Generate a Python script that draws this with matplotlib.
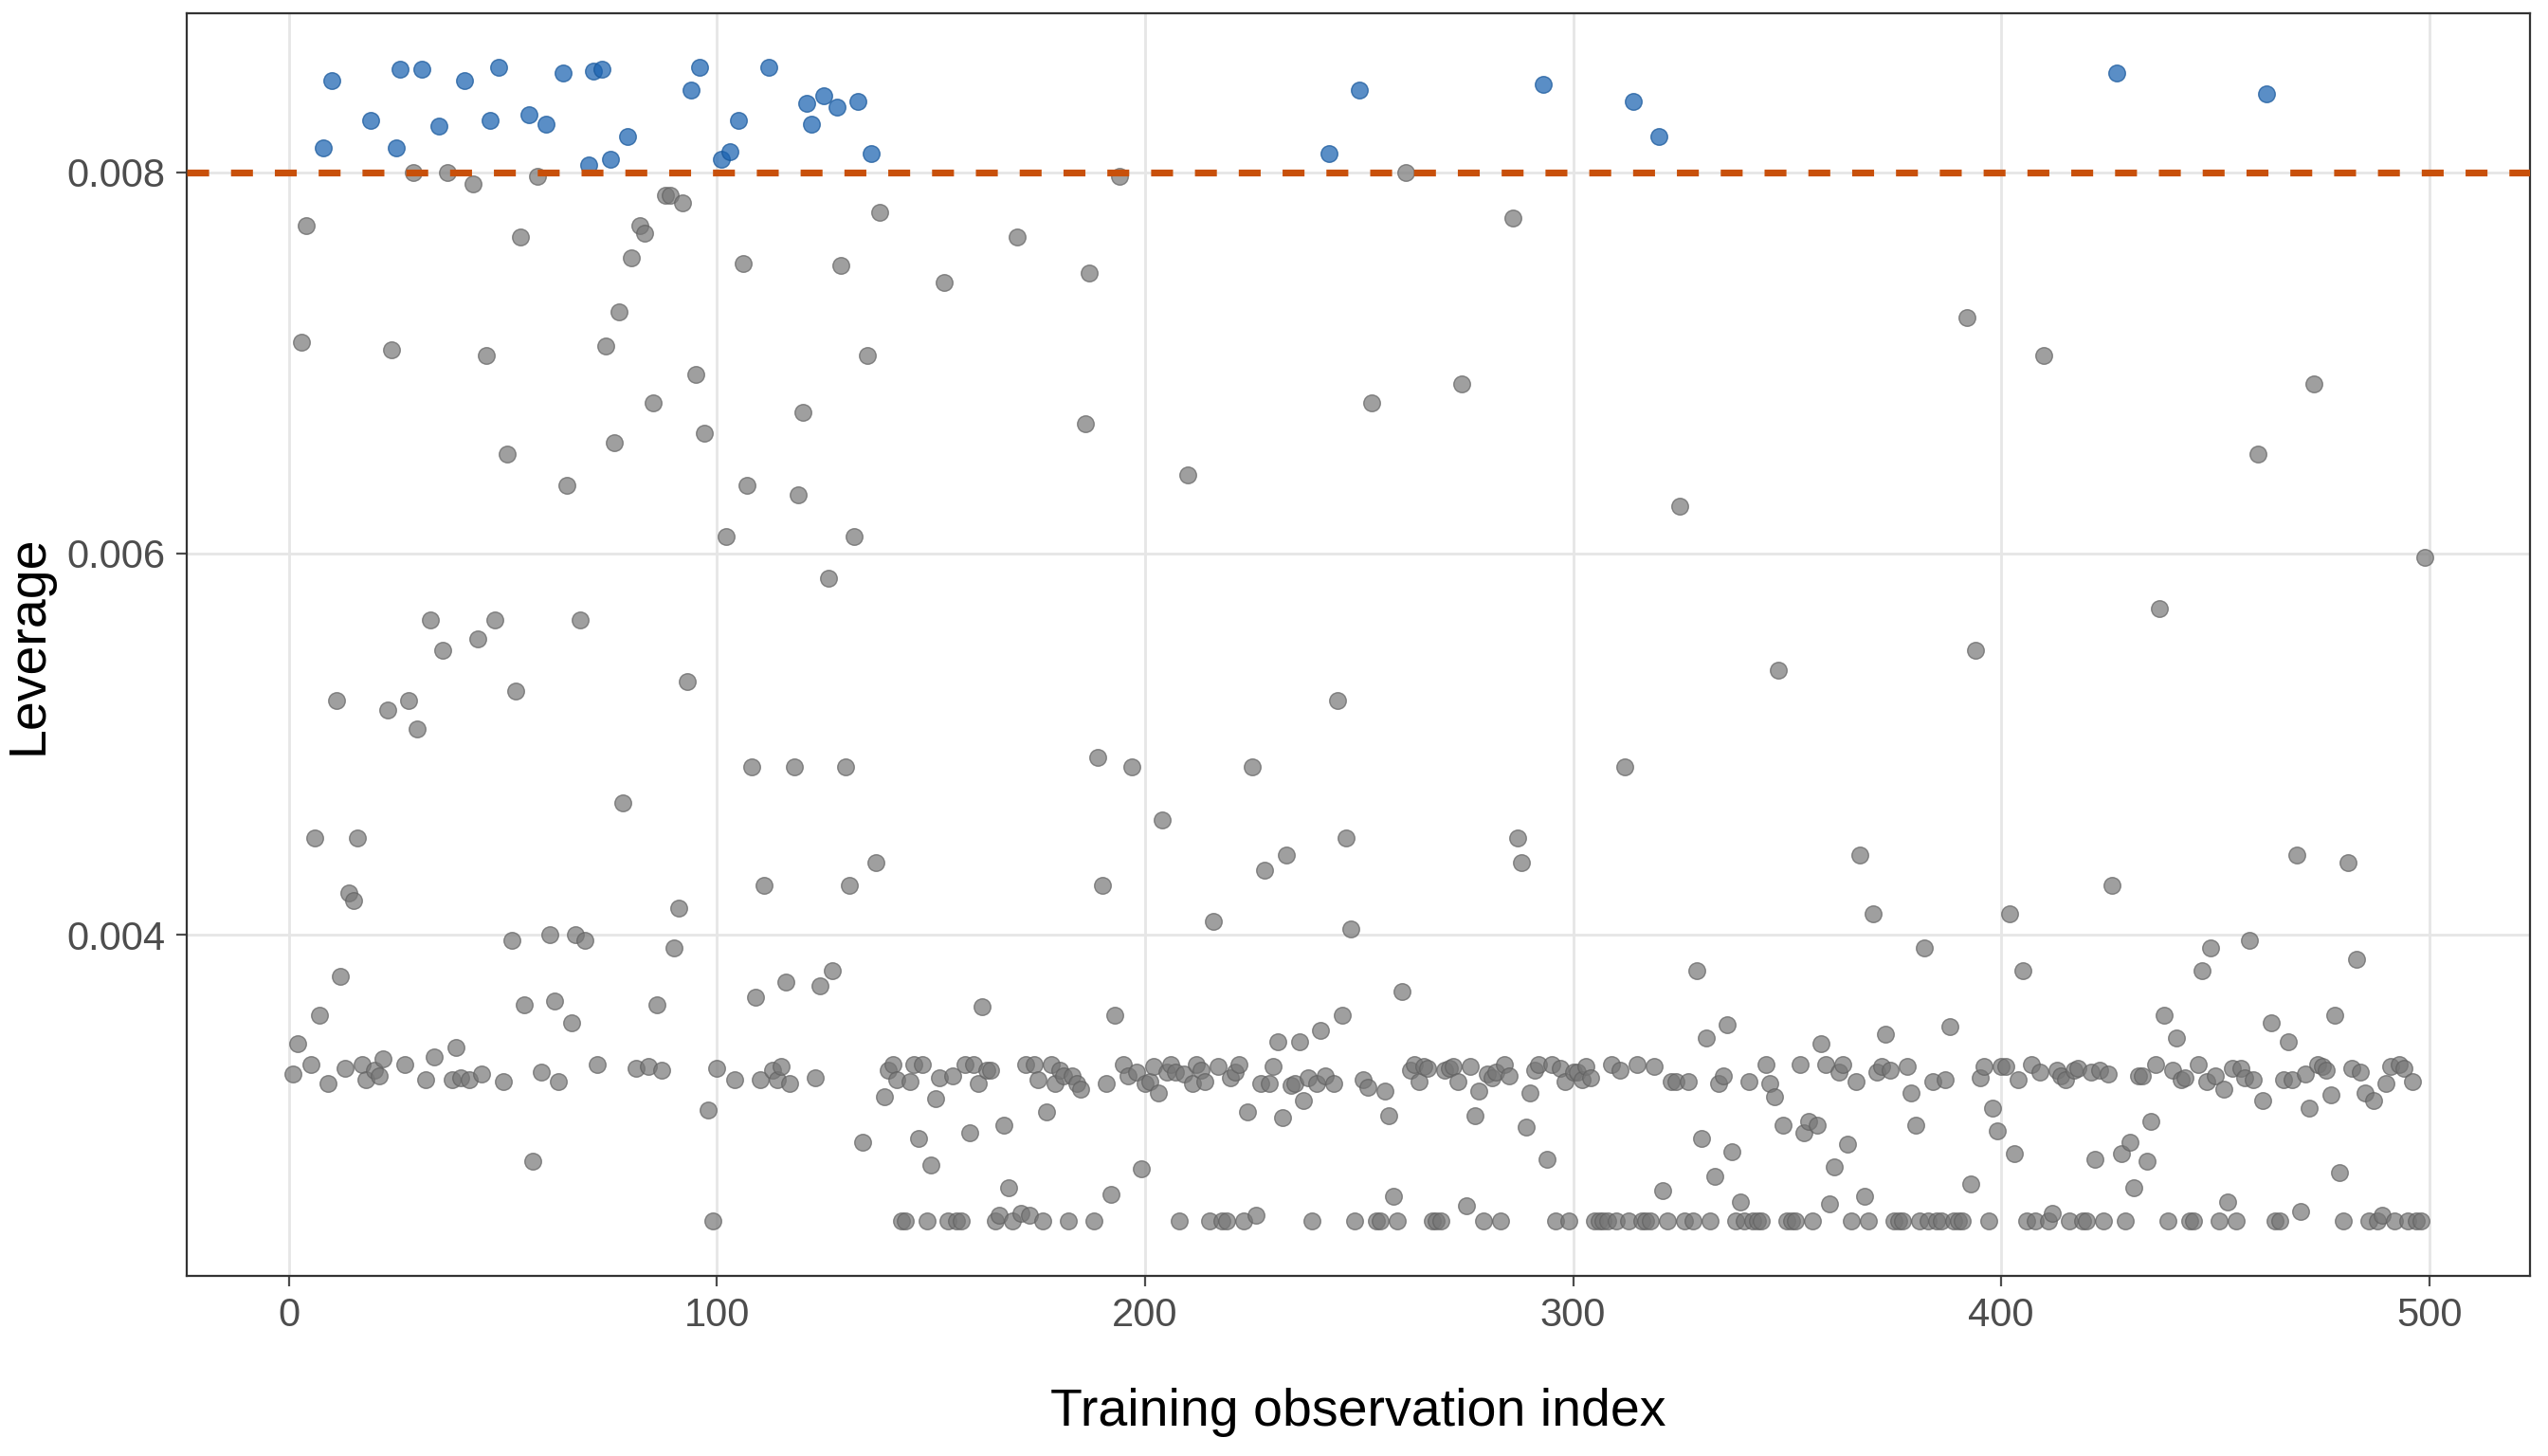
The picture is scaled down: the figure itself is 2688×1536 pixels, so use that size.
import numpy as np
import matplotlib
matplotlib.use("Agg")
import matplotlib.pyplot as plt

# leverage per training observation (index 1..499)
lev = [
    # 1-50
    0.00327, 0.00343, 0.00711, 0.00772, 0.00332, 0.00451, 0.00358, 0.00813, 0.00322, 0.00848,
    0.00523, 0.00378, 0.00330, 0.00422, 0.00418, 0.00451, 0.00332, 0.00324, 0.00827, 0.00329,
    0.00326, 0.00335, 0.00518, 0.00707, 0.00813, 0.00854, 0.00332, 0.00523, 0.00800, 0.00508,
    0.00854, 0.00324, 0.00565, 0.00336, 0.00824, 0.00549, 0.00800, 0.00324, 0.00341, 0.00325,
    0.00848, 0.00324, 0.00794, 0.00555, 0.00327, 0.00704, 0.00827, 0.00565, 0.00855, 0.00323,
    # 51-100
    0.00652, 0.00397, 0.00528, 0.00766, 0.00363, 0.00830, 0.00281, 0.00798, 0.00328, 0.00825,
    0.00400, 0.00365, 0.00323, 0.00852, 0.00636, 0.00354, 0.00400, 0.00565, 0.00397, 0.00804,
    0.00853, 0.00332, 0.00854, 0.00709, 0.00807, 0.00658, 0.00727, 0.00469, 0.00819, 0.00755,
    0.00330, 0.00772, 0.00768, 0.00331, 0.00679, 0.00363, 0.00329, 0.00788, 0.00788, 0.00393,
    0.00414, 0.00784, 0.00533, 0.00843, 0.00694, 0.00855, 0.00663, 0.00308, 0.00250, 0.00330,
    # 101-150
    0.00807, 0.00609, 0.00811, 0.00324, 0.00827, 0.00752, 0.00636, 0.00488, 0.00367, 0.00324,
    0.00426, 0.00855, 0.00329, 0.00324, 0.00331, 0.00375, 0.00322, 0.00488, 0.00631, 0.00674,
    0.00836, 0.00825, 0.00325, 0.00373, 0.00840, 0.00587, 0.00381, 0.00834, 0.00751, 0.00488,
    0.00426, 0.00609, 0.00837, 0.00291, 0.00704, 0.00810, 0.00438, 0.00779, 0.00315, 0.00329,
    0.00332, 0.00324, 0.00250, 0.00250, 0.00323, 0.00332, 0.00293, 0.00332, 0.00250, 0.00279,
    # 151-200
    0.00314, 0.00325, 0.00742, 0.00250, 0.00326, 0.00250, 0.00250, 0.00332, 0.00296, 0.00332,
    0.00322, 0.00362, 0.00329, 0.00329, 0.00250, 0.00253, 0.00300, 0.00267, 0.00250, 0.00766,
    0.00254, 0.00332, 0.00253, 0.00332, 0.00324, 0.00250, 0.00307, 0.00332, 0.00322, 0.00329,
    0.00326, 0.00250, 0.00326, 0.00322, 0.00319, 0.00668, 0.00747, 0.00250, 0.00493, 0.00426,
    0.00322, 0.00264, 0.00358, 0.00798, 0.00332, 0.00326, 0.00488, 0.00328, 0.00277, 0.00322,
    # 201-250
    0.00323, 0.00331, 0.00317, 0.00460, 0.00328, 0.00332, 0.00328, 0.00250, 0.00327, 0.00641,
    0.00322, 0.00332, 0.00329, 0.00323, 0.00250, 0.00407, 0.00331, 0.00250, 0.00250, 0.00325,
    0.00328, 0.00332, 0.00250, 0.00307, 0.00488, 0.00253, 0.00322, 0.00434, 0.00322, 0.00331,
    0.00344, 0.00304, 0.00442, 0.00321, 0.00322, 0.00344, 0.00313, 0.00325, 0.00250, 0.00322,
    0.00350, 0.00326, 0.00810, 0.00322, 0.00523, 0.00358, 0.00451, 0.00403, 0.00250, 0.00843,
    # 251-300
    0.00324, 0.00320, 0.00679, 0.00250, 0.00250, 0.00318, 0.00305, 0.00263, 0.00250, 0.00370,
    0.00800, 0.00329, 0.00332, 0.00323, 0.00331, 0.00330, 0.00250, 0.00250, 0.00250, 0.00329,
    0.00330, 0.00331, 0.00323, 0.00689, 0.00258, 0.00331, 0.00305, 0.00318, 0.00250, 0.00327,
    0.00325, 0.00328, 0.00250, 0.00332, 0.00326, 0.00776, 0.00451, 0.00438, 0.00299, 0.00317,
    0.00329, 0.00332, 0.00846, 0.00282, 0.00332, 0.00250, 0.00330, 0.00323, 0.00250, 0.00328,
    # 301-350
    0.00328, 0.00324, 0.00331, 0.00325, 0.00250, 0.00250, 0.00250, 0.00250, 0.00332, 0.00250,
    0.00329, 0.00488, 0.00250, 0.00837, 0.00332, 0.00250, 0.00250, 0.00250, 0.00331, 0.00819,
    0.00266, 0.00250, 0.00323, 0.00323, 0.00625, 0.00250, 0.00323, 0.00250, 0.00381, 0.00293,
    0.00346, 0.00250, 0.00273, 0.00322, 0.00326, 0.00353, 0.00286, 0.00250, 0.00260, 0.00250,
    0.00323, 0.00250, 0.00250, 0.00250, 0.00332, 0.00322, 0.00315, 0.00539, 0.00300, 0.00250,
    # 351-400
    0.00250, 0.00250, 0.00332, 0.00296, 0.00302, 0.00250, 0.00300, 0.00343, 0.00332, 0.00259,
    0.00278, 0.00328, 0.00332, 0.00290, 0.00250, 0.00323, 0.00442, 0.00263, 0.00250, 0.00411,
    0.00328, 0.00331, 0.00348, 0.00329, 0.00250, 0.00250, 0.00250, 0.00331, 0.00317, 0.00300,
    0.00250, 0.00393, 0.00250, 0.00323, 0.00250, 0.00250, 0.00324, 0.00352, 0.00250, 0.00250,
    0.00250, 0.00724, 0.00269, 0.00549, 0.00325, 0.00331, 0.00250, 0.00309, 0.00297, 0.00331,
    # 401-450
    0.00331, 0.00411, 0.00285, 0.00324, 0.00381, 0.00250, 0.00332, 0.00250, 0.00328, 0.00704,
    0.00250, 0.00254, 0.00329, 0.00326, 0.00324, 0.00250, 0.00329, 0.00330, 0.00250, 0.00250,
    0.00328, 0.00282, 0.00329, 0.00250, 0.00327, 0.00426, 0.00852, 0.00285, 0.00250, 0.00291,
    0.00267, 0.00326, 0.00326, 0.00281, 0.00302, 0.00332, 0.00571, 0.00358, 0.00250, 0.00329,
    0.00346, 0.00324, 0.00325, 0.00250, 0.00250, 0.00332, 0.00381, 0.00323, 0.00393, 0.00326,
    # 451-499
    0.00250, 0.00319, 0.00260, 0.00330, 0.00250, 0.00330, 0.00325, 0.00397, 0.00324, 0.00652,
    0.00313, 0.00841, 0.00354, 0.00250, 0.00250, 0.00324, 0.00344, 0.00324, 0.00442, 0.00255,
    0.00327, 0.00309, 0.00689, 0.00332, 0.00331, 0.00329, 0.00316, 0.00358, 0.00275, 0.00250,
    0.00438, 0.00330, 0.00387, 0.00328, 0.00317, 0.00250, 0.00313, 0.00250, 0.00253, 0.00322,
    0.00331, 0.00250, 0.00332, 0.00330, 0.00250, 0.00323, 0.00250, 0.00250, 0.00598,
]
obs_index = np.arange(1, len(lev) + 1)
lev = np.array(lev)

threshold = 0.008
high = lev > threshold

plt.rcParams["font.family"] = ["Liberation Sans", "DejaVu Sans"]

fig = plt.figure(figsize=(13.44, 7.68), dpi=200)
ax = fig.add_axes([0.0733, 0.1237, 0.9197, 0.8673])

ax.scatter(obs_index[~high], lev[~high], s=40, color="#777777", alpha=0.7,
           edgecolors="#606060", linewidths=0.5, zorder=3)
ax.scatter(obs_index[high], lev[high], s=40, color="#1a62b0", alpha=0.72,
           edgecolors="#155599", linewidths=0.5, zorder=3)

ax.axhline(threshold, color="#C8500A", lw=2.6, linestyle=(0, (3.2, 3.2)), zorder=4)

ax.set_xlim(-23.9, 523.6)
ax.set_ylim(0.00221, 0.008835)
ax.set_xticks([0, 100, 200, 300, 400, 500])
ax.set_yticks([0.004, 0.006, 0.008])
ax.set_yticklabels(["0.004", "0.006", "0.008"])

ax.grid(True, color="#e6e6e6", lw=1.0, zorder=0)
ax.set_axisbelow(True)
for s in ax.spines.values():
    s.set_color("#333333")
    s.set_linewidth(0.8)

ax.tick_params(axis="both", colors="#4d4d4d", labelsize=15, length=4, width=0.8,
               labelcolor="#4d4d4d", pad=4)

ax.set_xlabel("Training observation index", fontsize=20, labelpad=20)
ax.set_ylabel("Leverage", fontsize=20, labelpad=5)

fig.savefig("out.png", dpi=200)
